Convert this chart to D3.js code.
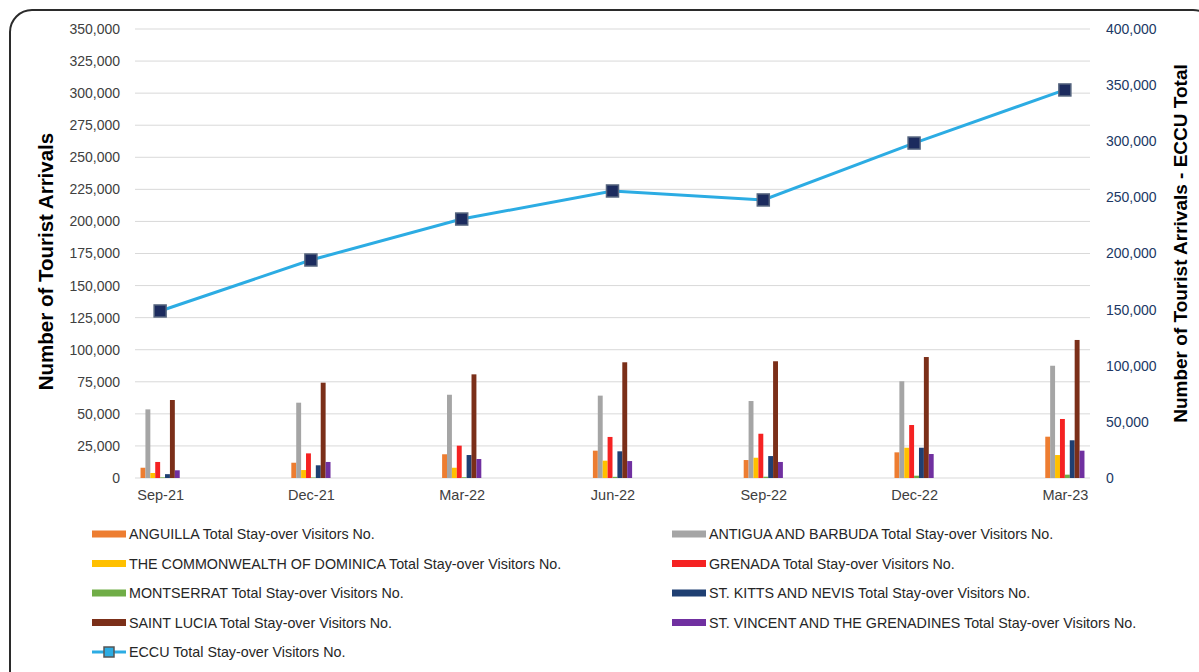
<!DOCTYPE html>
<html>
<head>
<meta charset="utf-8">
<script src="https://cdn.jsdelivr.net/npm/d3@7"></script>
<style>
  html, body { margin: 0; padding: 0; background: #fff; }
  svg { display: block; }
  text { font-family: "Liberation Sans", Arial, sans-serif; }
</style>
</head>
<body>
<svg id="chart" width="1199" height="672"></svg>
<script>
// Quarterly stay-over visitor arrivals by ECCU member
const quarters = ["Sep-21", "Dec-21", "Mar-22", "Jun-22", "Sep-22", "Dec-22", "Mar-23"];

const anguilla   = [8000, 11900, 18500, 21300, 14000, 20000, 32200];
const antigua    = [53500, 58700, 64900, 64200, 60000, 75400, 87500];
const dominica   = [3900, 6200, 8000, 13500, 15800, 23600, 17900];
const grenada    = [12500, 19200, 25200, 32000, 34500, 41300, 46000];
const montserrat = [500, 400, 600, 900, 1000, 1800, 2600];
const stKitts    = [3000, 9900, 17900, 20800, 17100, 23600, 29400];
const saintLucia = [60800, 74300, 80800, 90200, 91000, 94300, 107600];
const stVincent  = [6000, 12500, 14800, 13200, 12500, 18700, 21300];
const eccuTotal  = [148800, 194200, 230700, 255700, 247700, 298400, 345700];

const leftTicks  = d3.range(0, 350001, 25000);
const rightTicks = d3.range(0, 400001, 50000);

const series = [
  { name: "ANGUILLA Total Stay-over Visitors No.", values: anguilla, color: "#ed7d31" },
  { name: "ANTIGUA AND BARBUDA Total Stay-over Visitors No.", values: antigua, color: "#a5a5a5" },
  { name: "THE COMMONWEALTH OF DOMINICA Total Stay-over Visitors No.", values: dominica, color: "#ffc000" },
  { name: "GRENADA Total Stay-over Visitors No.", values: grenada, color: "#f52222" },
  { name: "MONTSERRAT Total Stay-over Visitors No.", values: montserrat, color: "#70ad47" },
  { name: "ST. KITTS AND NEVIS Total Stay-over Visitors No.", values: stKitts, color: "#1f3f72" },
  { name: "SAINT LUCIA Total Stay-over Visitors No.", values: saintLucia, color: "#7b2f19" },
  { name: "ST. VINCENT AND THE GRENADINES Total Stay-over Visitors No.", values: stVincent, color: "#7030a0" }
];
const lineName = "ECCU Total Stay-over Visitors No.";
const lineColor = "#2cace3";

const svg = d3.select("#chart");

// Rounded frame
svg.append("rect")
  .attr("x", 10).attr("y", 10)
  .attr("width", 1205).attr("height", 690)
  .attr("rx", 22).attr("ry", 22)
  .attr("fill", "#fff").attr("stroke", "#2b2b2b").attr("stroke-width", 2);

const plot = { left: 135, right: 1090, top: 29, bottom: 478 };

const x = d3.scalePoint().domain(quarters)
  .range([plot.left, plot.right]).padding(1 / 6);
const yL = d3.scaleLinear().domain([0, 350000]).range([plot.bottom, plot.top]);
const yR = d3.scaleLinear().domain([0, 400000]).range([plot.bottom, plot.top]);
const fmt = d3.format(",");

// Gridlines
svg.append("g").selectAll("line").data(leftTicks).join("line")
  .attr("x1", plot.left).attr("x2", plot.right)
  .attr("y1", d => yL(d)).attr("y2", d => yL(d))
  .attr("stroke", "#d9d9d9").attr("stroke-width", 1);

// Left axis
const gL = svg.append("g").attr("transform", `translate(${plot.left},0)`)
  .call(d3.axisLeft(yL).tickValues(leftTicks).tickFormat(fmt).tickSize(0).tickPadding(15));
gL.select(".domain").remove();
gL.selectAll("text").attr("font-size", 14).attr("fill", "#404040")
  .attr("font-family", "'Liberation Sans', Arial, sans-serif");

// Right axis
const gR = svg.append("g").attr("transform", `translate(${plot.right},0)`)
  .call(d3.axisRight(yR).tickValues(rightTicks).tickFormat(fmt).tickSize(0).tickPadding(16));
gR.select(".domain").remove();
gR.selectAll("text").attr("font-size", 14).attr("fill", "#203864")
  .attr("font-family", "'Liberation Sans', Arial, sans-serif");

// Bottom axis labels
const gX = svg.append("g").attr("transform", `translate(0,${plot.bottom})`)
  .call(d3.axisBottom(x).tickSize(0).tickPadding(12));
gX.select(".domain").remove();
gX.selectAll("text").attr("font-size", 14.5).attr("fill", "#404040")
  .attr("font-family", "'Liberation Sans', Arial, sans-serif");

// Clustered bars
const barW = 4.9;
const nS = series.length;
series.forEach((s, i) => {
  svg.append("g").selectAll("rect").data(s.values).join("rect")
    .attr("x", (d, j) => x(quarters[j]) + (i - nS / 2) * barW)
    .attr("width", barW)
    .attr("y", d => yL(d))
    .attr("height", d => yL(0) - yL(d))
    .attr("fill", s.color);
});

// ECCU total line on the secondary axis
const line = d3.line().x((d, j) => x(quarters[j])).y(d => yR(d));
svg.append("path").datum(eccuTotal)
  .attr("d", line).attr("fill", "none")
  .attr("stroke", lineColor).attr("stroke-width", 3);
const mk = 12;
svg.append("g").selectAll("rect").data(eccuTotal).join("rect")
  .attr("x", (d, j) => x(quarters[j]) - mk / 2)
  .attr("y", d => yR(d) - mk / 2)
  .attr("width", mk).attr("height", mk)
  .attr("fill", "#1c2b5e").attr("stroke", "#56657f").attr("stroke-width", 1.5);

// Axis titles
svg.append("text")
  .attr("transform", `translate(53,${(plot.top + plot.bottom) / 2 + 8}) rotate(-90)`)
  .attr("text-anchor", "middle")
  .attr("font-size", 20.5).attr("font-weight", "bold").attr("fill", "#000")
  .text("Number of Tourist Arrivals");
svg.append("text")
  .attr("transform", `translate(1187,${(plot.top + plot.bottom) / 2 - 10}) rotate(-90)`)
  .attr("text-anchor", "middle")
  .attr("font-size", 19).attr("font-weight", "bold").attr("fill", "#000")
  .text("Number of Tourist Arrivals - ECCU Total");

// Legend
const legendItems = series.map(s => ({ name: s.name, color: s.color, type: "bar" }));
legendItems.push({ name: lineName, color: lineColor, type: "line" });
const colX = [92, 672];
const rowY0 = 534, rowH = 29.5;
const lg = svg.append("g");
legendItems.forEach((it, k) => {
  const col = it.type === "line" ? 0 : k % 2;
  const row = it.type === "line" ? 4 : Math.floor(k / 2);
  const gx = colX[col], gy = rowY0 + row * rowH;
  const g = lg.append("g").attr("transform", `translate(${gx},${gy})`);
  if (it.type === "bar") {
    g.append("rect").attr("x", 0).attr("y", -3.5).attr("width", 34).attr("height", 7)
      .attr("fill", it.color);
  } else {
    g.append("line").attr("x1", 0).attr("x2", 34).attr("y1", 0).attr("y2", 0)
      .attr("stroke", it.color).attr("stroke-width", 3);
    g.append("rect").attr("x", 12).attr("y", -5).attr("width", 10).attr("height", 10)
      .attr("fill", it.color).attr("stroke", "#555").attr("stroke-width", 1.5);
  }
  g.append("text").attr("x", 37).attr("y", 0).attr("dy", "0.35em")
    .attr("font-size", 14.3).attr("fill", "#262626")
    .text(it.name);
});
</script>
</body>
</html>
